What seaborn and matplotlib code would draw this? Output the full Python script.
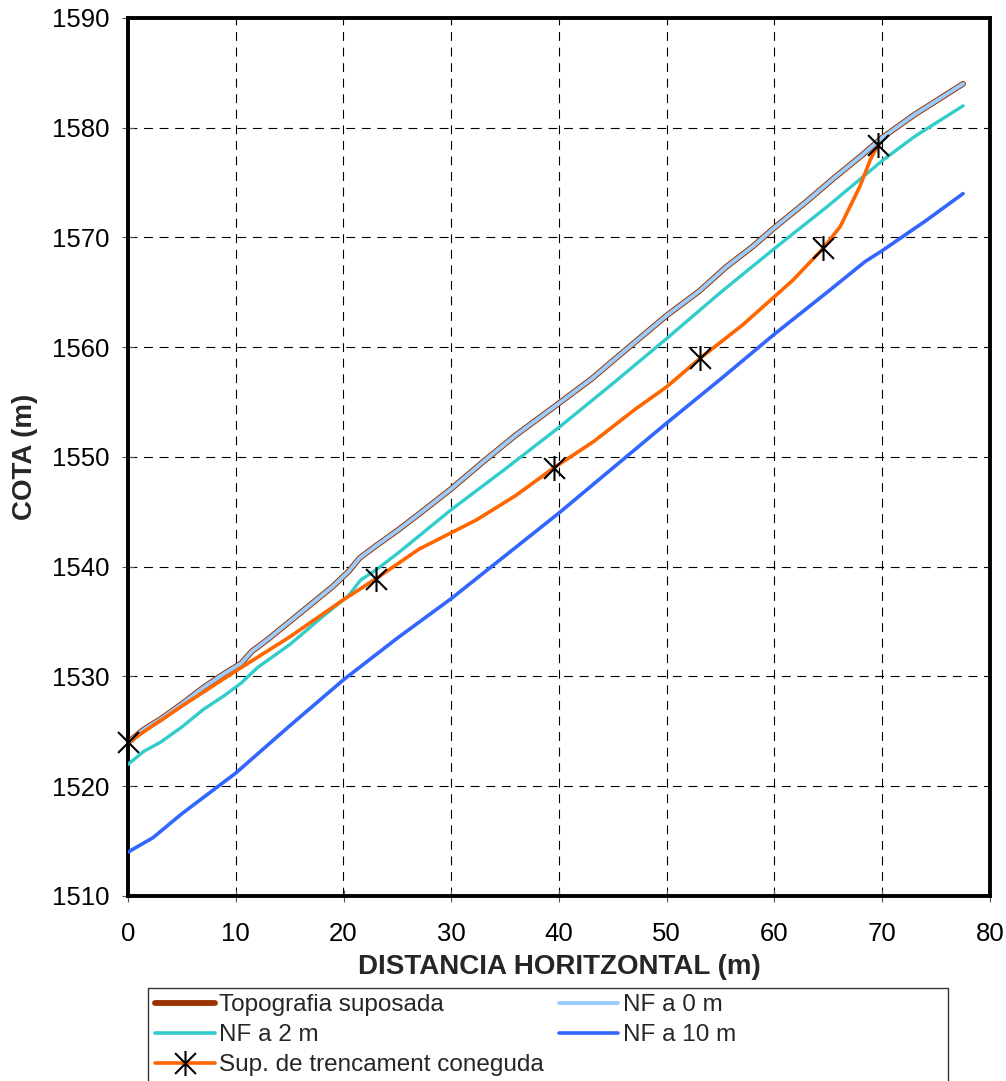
import numpy as np
import pandas as pd
import matplotlib
matplotlib.use("Agg")
import matplotlib.pyplot as plt
import seaborn as sns
from matplotlib.path import Path
from matplotlib.lines import Line2D
from matplotlib.patches import Rectangle

# Topografia suposada (= NF a 0 m)
topo_x = [0, 1.5, 3, 5, 7, 9, 10.5, 11.5, 13, 15, 17, 19, 20.5, 21.5, 23, 25, 27, 30,
          33, 36, 40, 43, 46, 50, 53, 55.5, 58, 60, 63, 65.5, 68, 70, 73, 77.5]
topo_y = [1524, 1525.2, 1526.1, 1527.5, 1529, 1530.3, 1531.2, 1532.3, 1533.4, 1535,
          1536.6, 1538.2, 1539.6, 1540.8, 1541.9, 1543.3, 1544.8, 1547.1, 1549.6, 1552,
          1554.9, 1557.1, 1559.6, 1562.9, 1565.1, 1567.3, 1569.2, 1570.9, 1573.3,
          1575.4, 1577.4, 1579.1, 1581.2, 1584]

# NF a 2 m
nf2_x = [0, 1.5, 3, 5, 7, 9, 10.5, 12, 15, 18, 20.5, 21.6, 23, 25, 30, 35, 40, 45,
         50, 55, 60, 65, 70, 73, 77.5]
nf2_y = [1522, 1523.2, 1524, 1525.4, 1527, 1528.3, 1529.4, 1530.8, 1532.9, 1535.4,
         1537.4, 1538.8, 1539.7, 1541.2, 1545.2, 1548.9, 1552.7, 1556.7, 1560.8,
         1565, 1569, 1572.9, 1577, 1579.2, 1582]

# NF a 10 m
nf10_x = [0, 2.3, 5, 10, 15, 20, 25, 30, 35, 40, 45, 50, 55, 60, 65, 68.4, 70, 74, 77.5]
nf10_y = [1514, 1515.3, 1517.5, 1521.2, 1525.5, 1529.7, 1533.5, 1537.1, 1541, 1544.9,
          1549, 1553.1, 1557.1, 1561.2, 1565.1, 1567.8, 1568.8, 1571.5, 1574]

# Sup. de trencament coneguda
sup_x = [0, 5, 10, 15, 20, 23, 27, 32.4, 36, 39.5, 43.2, 47, 50, 53.1, 57, 61.7,
         64.5, 66.1, 67.9, 68.9, 69.6]
sup_y = [1524, 1527.3, 1530.5, 1533.6, 1537, 1538.9, 1541.6, 1544.3, 1546.5, 1549,
         1551.4, 1554.3, 1556.4, 1559, 1562, 1566.1, 1569, 1571, 1574.6, 1577.1, 1578.4]
pts_x = [0, 23, 39.5, 53.1, 64.5, 69.6]
pts_y = [1524, 1538.9, 1549, 1559, 1569, 1578.4]

labels = ["Topografia suposada", "NF a 0 m", "NF a 2 m", "NF a 10 m",
          "Sup. de trencament coneguda"]
colors = {"topo": "#993300", "nf0": "#99CCFF", "nf2": "#33CCCC",
          "nf10": "#3366FF", "sup": "#FF6600"}

sns.set_style("white")
plt.rcParams["font.family"] = ["Liberation Sans", "DejaVu Sans"]

# star marker: X plus vertical bar
star = Path([(-1, -1), (1, 1), (-1, 1), (1, -1), (0, -1.2), (0, 1.2)],
            [Path.MOVETO, Path.LINETO, Path.MOVETO, Path.LINETO, Path.MOVETO, Path.LINETO])

fig = plt.figure(figsize=(10.06, 10.81), dpi=100)
ax = fig.add_axes([128 / 1006, 1 - 896 / 1081, (990 - 128) / 1006, (896 - 18) / 1081])

topo = pd.DataFrame({"x": topo_x, "y": topo_y})
sns.lineplot(data=topo, x="x", y="y", ax=ax, sort=False, color=colors["topo"],
             lw=4.2, zorder=3)
sns.lineplot(data=topo, x="x", y="y", ax=ax, sort=False, color=colors["nf0"],
             lw=2.8, zorder=4)
sns.lineplot(x=nf2_x, y=nf2_y, ax=ax, sort=False, color=colors["nf2"], lw=2.4, zorder=3)
sns.lineplot(x=nf10_x, y=nf10_y, ax=ax, sort=False, color=colors["nf10"], lw=2.6, zorder=3)
sns.lineplot(x=sup_x, y=sup_y, ax=ax, sort=False, color=colors["sup"], lw=2.6, zorder=5)
ax.plot(pts_x, pts_y, ls="none", marker=star, ms=18, mew=1.5, mec="black",
        mfc="none", zorder=6, clip_on=False)

ax.set_xlim(0, 80)
ax.set_ylim(1510, 1590)
ax.set_xticks(range(0, 81, 10))
ax.set_yticks(range(1510, 1591, 10))
ax.grid(True, color="black", lw=0.8, ls=(0, (8, 6)))
for s in ax.spines.values():
    s.set_visible(True)
    s.set_color("black")
    s.set_linewidth(2.8)
ax.tick_params(axis="both", direction="inout", length=8, width=0.8, color="#555555",
               labelsize=18.5, labelcolor="black", bottom=True, left=True)
ax.tick_params(axis="y", pad=9.5)
ax.tick_params(axis="x", pad=15)

ax.set_xlabel("DISTANCIA HORITZONTAL (m)", fontsize=20, fontweight="bold")
ax.set_ylabel("COTA (m)", fontsize=20, fontweight="bold")
ax.xaxis.set_label_coords(0.5, (896 - 967) / 878)
ax.xaxis.label.set_va("center")
ax.yaxis.set_label_coords(-(128 - 25) / 862, 0.5)
ax.yaxis.label.set_va("center")

handles = [
    Line2D([], [], color=colors["topo"], lw=4.2),
    Line2D([], [], color=colors["nf2"], lw=2.6),
    Line2D([], [], color=colors["sup"], lw=2.6, marker=star, ms=18, mew=1.5,
           mec="black", mfc="none"),
    Line2D([], [], color=colors["nf0"], lw=2.8),
    Line2D([], [], color=colors["nf10"], lw=2.6),
]
leg_labels = [labels[0], labels[2], labels[4], labels[1], labels[3]]
fig.legend(handles, leg_labels, loc="upper left", ncol=2, frameon=False,
           bbox_to_anchor=(155 / 1006, 1 - 994 / 1081), fontsize=17.5,
           handlelength=2.45, handletextpad=0.2, labelspacing=0.33,
           columnspacing=0.6, borderpad=0, borderaxespad=0)
fig.patches.append(Rectangle((148 / 1006, -0.02), (948 - 148) / 1006, 0.02 + 1 - 988 / 1081,
                             transform=fig.transFigure, fill=False, ec="#333333", lw=1.0))

fig.savefig("out.png", dpi=100)
